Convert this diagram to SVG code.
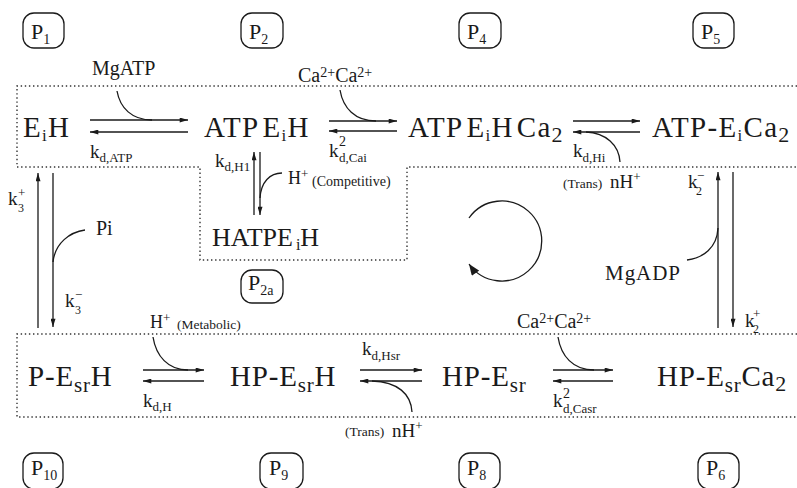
<svg xmlns="http://www.w3.org/2000/svg" width="797" height="488" viewBox="0 0 797 488" font-family="'Liberation Serif', serif">
<defs>
<style>
text { font-family: 'Liberation Serif', serif; fill: #1a1a1a; }
.sp { font-size: 29px; letter-spacing: 1.3px; }
.sb { font-size: 29px; letter-spacing: 0.8px; }
.hp { font-size: 26px; }
.lb { font-size: 19px; }
.sm { font-size: 13px; letter-spacing: 0; }
.pl { font-size: 22px; }
.box { fill: none; stroke: #1a1a1a; stroke-width: 1.3; }
.dot { fill: none; stroke: #333; stroke-width: 1.4; stroke-dasharray: 1.4 2.7; }
.ln { fill: none; stroke: #1a1a1a; stroke-width: 1.3; }
.ar { fill: none; stroke: #1a1a1a; stroke-width: 1.3; marker-end: url(#ah); }
</style>
<marker id="ah" viewBox="0 0 10 6" refX="10" refY="3" markerWidth="9" markerHeight="5" orient="auto" markerUnits="userSpaceOnUse">
<path d="M0,0 L10,3 L0,6 Z" fill="#1a1a1a"/>
</marker>
<marker id="ah2" viewBox="0 0 10 8" refX="10" refY="4" markerWidth="12" markerHeight="9" orient="auto" markerUnits="userSpaceOnUse">
<path d="M0,0 L10,4 L0,8 Z" fill="#1a1a1a"/>
</marker>
</defs>
<rect width="797" height="488" fill="#fff"/>

<g id="regions">
<path class="dot" d="M797,86 H17 V167 H200 V260 H407 V167 H797"/>
<path class="dot" d="M797,334 H17 V417 H797"/>
</g>

<g id="phase-labels">
<g id="P1"><rect class="box" x="23" y="13" width="41" height="35" rx="11"/><text class="pl" x="31" y="39">P<tspan font-size="14" dy="5">1</tspan></text></g>
<g id="P2"><rect class="box" x="241" y="13" width="42" height="35" rx="11"/><text class="pl" x="249" y="39">P<tspan font-size="14" dy="5">2</tspan></text></g>
<g id="P4"><rect class="box" x="459" y="13" width="42" height="35" rx="11"/><text class="pl" x="467" y="39">P<tspan font-size="14" dy="5">4</tspan></text></g>
<g id="P5"><rect class="box" x="693" y="13" width="41" height="35" rx="11"/><text class="pl" x="701" y="39">P<tspan font-size="14" dy="5">5</tspan></text></g>
<g id="P2a"><rect class="box" x="241" y="270" width="42" height="33" rx="11"/><text class="pl" x="248" y="290">P<tspan font-size="14" dy="5">2a</tspan></text></g>
<g id="P10"><rect class="box" x="23" y="453" width="40" height="36" rx="11"/><text class="pl" x="31" y="475">P<tspan font-size="14" dy="5">10</tspan></text></g>
<g id="P9"><rect class="box" x="260" y="453" width="43" height="36" rx="11"/><text class="pl" x="269" y="475">P<tspan font-size="14" dy="5">9</tspan></text></g>
<g id="P8"><rect class="box" x="459" y="453" width="41" height="36" rx="11"/><text class="pl" x="467" y="475">P<tspan font-size="14" dy="5">8</tspan></text></g>
<g id="P6"><rect class="box" x="698" y="453" width="41" height="36" rx="11"/><text class="pl" x="706" y="475">P<tspan font-size="14" dy="5">6</tspan></text></g>
</g>

<g id="n-EiH"><text class="sp" x="23" y="137">E<tspan font-size="17" dy="4">i</tspan><tspan dy="-4">H</tspan></text></g>
<g id="n-ATPEiH"><text class="sp" x="204" y="137">ATP<tspan dx="3">E</tspan><tspan font-size="17" dy="4">i</tspan><tspan dy="-4">H</tspan></text></g>
<g id="n-ATPEiHCa2"><text class="sp" x="408" y="137">ATP<tspan dx="3">E</tspan><tspan font-size="17" dy="4">i</tspan><tspan dy="-4">H</tspan><tspan dx="3">Ca</tspan><tspan font-size="22" dy="5">2</tspan></text></g>
<g id="n-ATP-EiCa2"><text class="sp" x="652" y="137">ATP-E<tspan font-size="17" dy="4">i</tspan><tspan dy="-4">Ca</tspan><tspan font-size="22" dy="5">2</tspan></text></g>
<g id="n-HATPEiH"><text class="hp" x="212" y="246">HATPE<tspan font-size="16" dx="3" dy="4">i</tspan><tspan dy="-4">H</tspan></text></g>
<g id="n-P-EsrH"><text class="sb" x="28" y="386">P-E<tspan font-size="21" dy="6">sr</tspan><tspan dy="-6">H</tspan></text></g>
<g id="n-HP-EsrH"><text class="sb" x="230" y="386">HP-E<tspan font-size="21" dy="6">sr</tspan><tspan dy="-6">H</tspan></text></g>
<g id="n-HP-Esr"><text class="sb" x="442" y="386">HP-E<tspan font-size="21" dy="6">sr</tspan></text></g>
<g id="n-HP-EsrCa2"><text class="sb" x="657" y="386">HP-E<tspan font-size="21" dy="6">sr</tspan><tspan dy="-6">Ca</tspan><tspan font-size="22" dy="5">2</tspan></text></g>

<g id="connectors">
<line class="ar" x1="90" y1="120" x2="188" y2="120"/>
<line class="ar" x1="188" y1="132" x2="90" y2="132"/>
<path class="ln" d="M117,91 C120,108 132,120 152,120"/>
<line class="ar" x1="329" y1="121" x2="397" y2="121"/>
<line class="ar" x1="397" y1="131" x2="329" y2="131"/>
<path class="ln" d="M340,90 C343,108 355,121 376,121"/>
<line class="ar" x1="573" y1="121" x2="640" y2="121"/>
<line class="ar" x1="640" y1="132" x2="573" y2="132"/>
<path class="ln" d="M620,162 C619,145 606,133 586,132"/>
<line class="ar" x1="254" y1="215" x2="254" y2="152"/>
<line class="ar" x1="260" y1="152" x2="260" y2="215"/>
<path class="ln" d="M282,173 C270,173 261,182 260,198"/>
<line class="ar" x1="38" y1="328" x2="38" y2="173"/>
<line class="ar" x1="53" y1="173" x2="53" y2="327"/>
<path class="ln" d="M85,230 C70,232 55,243 53,262"/>
<line class="ar" x1="718" y1="328" x2="718" y2="172"/>
<line class="ar" x1="733" y1="172" x2="733" y2="327"/>
<path class="ln" d="M687,260 C703,258 717,248 718,228"/>
<line class="ar" x1="143" y1="370" x2="204" y2="370"/>
<line class="ar" x1="204" y1="381" x2="143" y2="381"/>
<path class="ln" d="M153,337 C156,356 168,370 188,370"/>
<line class="ar" x1="360" y1="370" x2="422" y2="370"/>
<line class="ar" x1="422" y1="381" x2="360" y2="381"/>
<path class="ln" d="M412,412 C411,394 398,382 372,381"/>
<line class="ar" x1="553" y1="370" x2="613" y2="370"/>
<line class="ar" x1="613" y1="381" x2="553" y2="381"/>
<path class="ln" d="M558,337 C561,356 573,370 594,370"/>
<path class="ln" d="M469,218 A40,40 0 1 1 469,264" marker-end="url(#ah2)"/>
</g>

<g id="labels">
<text x="92" y="75" font-size="20">MgATP</text>
<text x="298" y="82" font-size="20">Ca<tspan font-size="14" dy="-5">2+</tspan><tspan dy="5">Ca</tspan><tspan font-size="14" dy="-5">2+</tspan></text>
<text class="lb" x="90" y="158">k<tspan class="sm" dy="4">d,ATP</tspan></text>
<text class="lb" x="329" y="157">k</text><text font-size="14" x="339" y="146">2</text><text class="sm" x="339" y="162">d,Cai</text>
<text class="lb" x="573" y="157">k<tspan class="sm" dy="5">d,Hi</tspan></text>
<text x="563" y="188" font-size="13.5">(Trans)</text>
<text class="lb" x="610" y="188">nH<tspan font-size="13" dy="-7">+</tspan></text>
<text class="lb" x="215" y="167">k<tspan class="sm" dy="4">d,H1</tspan></text>
<text x="288" y="184" font-size="18">H<tspan font-size="13" dy="-6">+</tspan></text>
<text x="312" y="186" font-size="14">(Competitive)</text>
<text class="lb" x="8" y="205">k</text><text font-size="13" x="18" y="197">+</text><text font-size="12" x="18" y="212">3</text>
<text class="lb" x="65" y="307">k</text><text font-size="13" x="75" y="299">−</text><text font-size="12" x="75" y="314">3</text>
<text x="96" y="235" font-size="20">Pi</text>
<text class="lb" x="688" y="188">k</text><text font-size="13" x="697" y="180">−</text><text font-size="12" x="696" y="195">2</text>
<text x="605" y="280" font-size="21" textLength="75" lengthAdjust="spacing">MgADP</text>
<text class="lb" x="745" y="327">k</text><text font-size="13" x="753" y="318">+</text><text font-size="12" x="753" y="333">2</text>
<text x="150" y="328" font-size="18">H<tspan font-size="13" dy="-6">+</tspan></text>
<text x="177" y="329" font-size="13.5">(Metabolic)</text>
<text x="517" y="328" font-size="20">Ca<tspan font-size="14" dy="-5">2+</tspan><tspan dy="5">Ca</tspan><tspan font-size="14" dy="-5">2+</tspan></text>
<text class="lb" x="143" y="407">k<tspan class="sm" dy="4">d,H</tspan></text>
<text class="lb" x="362" y="355">k<tspan class="sm" dy="5">d,Hsr</tspan></text>
<text x="345" y="436" font-size="13.5">(Trans)</text>
<text class="lb" x="392" y="437">nH<tspan font-size="13" dy="-7">+</tspan></text>
<text class="lb" x="553" y="407">k</text><text font-size="14" x="563" y="398">2</text><text class="sm" x="563" y="413">d,Casr</text>
</g>
</svg>
